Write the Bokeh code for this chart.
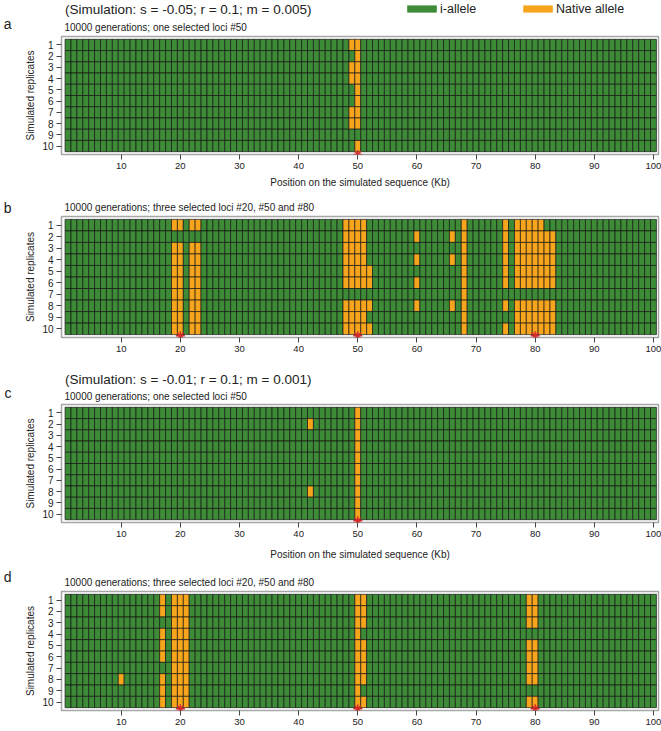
from bokeh.plotting import figure
from bokeh.models import (ColumnDataSource, Range1d, FixedTicker,
                          Legend, LegendItem)
from bokeh.core.properties import value
from bokeh.layouts import column
from bokeh.embed import file_html
from bokeh.resources import INLINE

FONT = "Liberation Sans"
GREEN = "#3d8b37"
ORANGE = "#f7a51c"
STAR = "#d42a2a"
TEXT = "#222222"
LEFT, FRAME_W, RIGHT = 59, 597, 5

# ---------------- data ----------------
n_positions = 100
n_replicates = 10
x_ticks = [10, 20, 30, 40, 50, 60, 70, 80, 90, 100]
y_ticks = [1, 2, 3, 4, 5, 6, 7, 8, 9, 10]

header_1 = "(Simulation: s = -0.05; r = 0.1; m = 0.005)"
header_2 = "(Simulation: s = -0.01; r = 0.1; m = 0.001)"
sub_one = "10000 generations; one selected loci #50"
sub_three = "10000 generations; three selected loci #20, #50 and #80"
legend_labels = ["i-allele", "Native allele"]
x_title = "Position on the simulated sequence (Kb)"
y_title = "Simulated replicates"

# native-allele cells: position -> replicates carrying the native allele
native_a = {
    49: [1, 3, 4, 7, 8],
    50: [1, 2, 3, 4, 5, 6, 7, 8, 10],
}
native_b = {
    19: [1, 3, 4, 5, 6, 7, 8, 9, 10],
    20: [1, 3, 4, 5, 6, 7, 8, 9, 10],
    22: [1, 3, 4, 5, 6, 7, 8, 9, 10],
    23: [1, 3, 4, 5, 6, 7, 8, 9, 10],
    48: [1, 2, 3, 4, 5, 6, 8, 9, 10],
    49: [1, 2, 3, 4, 5, 6, 8, 9, 10],
    50: [1, 2, 3, 4, 5, 6, 8, 9, 10],
    51: [1, 2, 3, 4, 5, 6, 8, 9, 10],
    52: [5, 6, 8, 10],
    60: [2, 4, 6, 8],
    66: [2, 4, 8],
    68: [1, 2, 3, 4, 5, 6, 7, 8, 9, 10],
    75: [1, 2, 3, 4, 5, 6, 8, 10],
    77: [1, 2, 3, 4, 5, 6, 8, 9, 10],
    78: [1, 2, 3, 4, 5, 6, 8, 9, 10],
    79: [1, 2, 3, 4, 5, 6, 8, 9, 10],
    80: [1, 2, 3, 4, 5, 6, 8, 9, 10],
    81: [1, 2, 3, 4, 5, 6, 8, 9, 10],
    82: [2, 3, 4, 5, 6, 8, 9, 10],
    83: [2, 3, 4, 5, 6, 8, 9, 10],
}
native_c = {
    42: [2, 8],
    50: [1, 2, 3, 4, 5, 6, 7, 8, 9, 10],
}
native_d = {
    10: [8],
    17: [1, 2, 4, 5, 6, 8, 9, 10],
    19: [1, 2, 3, 4, 5, 6, 7, 8, 9, 10],
    20: [1, 2, 3, 4, 5, 6, 7, 8, 9, 10],
    21: [1, 2, 3, 4, 5, 6, 7, 8, 9, 10],
    50: [1, 2, 3, 4, 5, 6, 7, 8, 9, 10],
    51: [1, 2, 3, 5, 6, 7, 8, 10],
    79: [1, 2, 3, 5, 6, 7, 8, 10],
    80: [1, 2, 3, 5, 6, 7, 8, 10],
}
selected_a = [50]
selected_b = [20, 50, 80]
selected_c = [50]
selected_d = [20, 50, 80]


def cell_source(native):
    xs, ys, cs = [], [], []
    for pos in range(1, n_positions + 1):
        rows = native.get(pos, [])
        for rep in range(1, n_replicates + 1):
            xs.append(pos)
            ys.append(rep)
            cs.append(ORANGE if rep in rows else GREEN)
    return ColumnDataSource(dict(x=xs, y=ys, color=cs))


def header_fig(height, letter, letter_y, subtitle, header=None, header_y=None,
               legend=False):
    # strip above each panel; x/y ranges are in canvas pixels
    p = figure(frame_width=FRAME_W, frame_height=height,
               min_border_left=LEFT, min_border_right=RIGHT,
               min_border_top=0, min_border_bottom=0,
               x_range=Range1d(LEFT, LEFT + FRAME_W),
               y_range=Range1d(height, 0), x_axis_location=None,
               y_axis_location="left", output_backend="svg",
               toolbar_location=None, tools="")
    p.outline_line_color = None
    p.xgrid.visible = False
    p.ygrid.visible = False
    p.background_fill_color = "white"
    p.border_fill_color = "white"

    ya = p.yaxis[0]
    ya.ticker = FixedTicker(ticks=[letter_y])
    ya.major_label_overrides = {letter_y: letter}
    ya.axis_line_color = None
    ya.major_tick_line_color = None
    ya.minor_tick_line_color = None
    ya.major_tick_out = 0
    ya.major_tick_in = 0
    ya.major_label_standoff = 50
    ya.major_label_text_font = FONT
    ya.major_label_text_font_size = "14px"
    ya.major_label_text_color = TEXT

    p.text(x=[62], y=[letter_y], text=[subtitle], text_font=value(FONT),
           text_font_size="10px", text_baseline="middle", text_align="left",
           text_color=TEXT)
    if header:
        p.text(x=[62.5], y=[header_y], text=[header], text_font=value(FONT),
               text_font_size="13.5px", text_baseline="middle",
               text_align="left", text_color=TEXT)
    if legend:
        # legend swatches (their single point lies outside the strip)
        g = p.rect(x=[-500], y=[-500], width=1, height=1, fill_color=GREEN,
                   line_color=None)
        o = p.rect(x=[-500], y=[-500], width=1, height=1, fill_color=ORANGE,
                   line_color=None)
        leg = Legend(items=[LegendItem(label=legend_labels[0], renderers=[g]),
                            LegendItem(label=legend_labels[1], renderers=[o])],
                     orientation="horizontal",
                     location=(342, height - header_y - 7),
                     glyph_width=37, glyph_height=9, label_standoff=-2,
                     label_width=77, label_height=14, spacing=2,
                     padding=0, margin=0, border_line_color=None,
                     background_fill_alpha=0,
                     label_text_font=FONT, label_text_font_size="12.5px",
                     label_text_color=TEXT, label_text_baseline="middle")
        p.add_layout(leg, "center")
    return p


def panel_fig(native, selected, frame_height, border_top, border_bottom,
              xlabel_standoff=None, star_y=10.6):
    p = figure(frame_width=FRAME_W, frame_height=frame_height,
               min_border_left=LEFT, min_border_right=RIGHT,
               min_border_top=border_top, min_border_bottom=border_bottom,
               x_range=Range1d(-0.1, 100.85), y_range=Range1d(10.75, 0.25),
               output_backend="svg", toolbar_location=None, tools="")
    p.background_fill_color = "white"
    p.border_fill_color = "white"
    p.outline_line_color = "#a6a6a6"
    p.outline_line_width = 1.5
    p.xgrid.visible = False
    p.ygrid.visible = False

    p.rect(x="x", y="y", width=1, height=1, source=cell_source(native),
           fill_color="color", line_color="#141414", line_alpha=0.85,
           line_width=0.8)

    p.scatter(x=selected, y=[star_y] * len(selected), marker="asterisk",
              size=9, line_color=STAR, line_width=1.4)

    xa = p.xaxis[0]
    xa.ticker = FixedTicker(ticks=x_ticks)
    xa.axis_line_color = None
    xa.major_tick_out = 5
    xa.major_tick_in = 0
    xa.minor_tick_line_color = None
    xa.major_tick_line_color = "#444444"
    xa.major_label_standoff = 3
    xa.major_label_text_font = FONT
    xa.major_label_text_font_size = "9.5px"
    xa.major_label_text_color = TEXT
    if xlabel_standoff is not None:
        xa.axis_label = x_title
        xa.axis_label_text_font = FONT
        xa.axis_label_text_font_size = "10px"
        xa.axis_label_text_font_style = "normal"
        xa.axis_label_text_color = TEXT
        xa.axis_label_standoff = xlabel_standoff

    ya = p.yaxis[0]
    ya.ticker = FixedTicker(ticks=y_ticks)
    ya.axis_line_color = None
    ya.major_tick_out = 5
    ya.major_tick_in = 0
    ya.minor_tick_line_color = None
    ya.major_tick_line_color = "#444444"
    ya.major_label_standoff = 3
    ya.major_label_text_font = FONT
    ya.major_label_text_font_size = "10px"
    ya.major_label_text_color = TEXT
    ya.axis_label = y_title
    ya.axis_label_text_font = FONT
    ya.axis_label_text_font_size = "10px"
    ya.axis_label_text_font_style = "normal"
    ya.axis_label_text_color = TEXT
    ya.axis_label_standoff = 3
    return p


ha = header_fig(33, "a", 27, sub_one, header=header_1, header_y=8.5,
                legend=True)
pa = panel_fig(native_a, selected_a, 118, 3, 41, xlabel_standoff=5,
               star_y=10.75)
hb = header_fig(20, "b", 12, sub_three)
pb = panel_fig(native_b, selected_b, 121, 1, 28)
hc = header_fig(37, "c", 31, sub_one, header=header_2, header_y=14)
pc = panel_fig(native_c, selected_c, 118, 2, 45, xlabel_standoff=9)
hd = header_fig(20, "d", 15, sub_three)
pd = panel_fig(native_d, selected_d, 119, 4, 21)

layout = column(ha, pa, hb, pb, hc, pc, hd, pd, spacing=0)
open("out.html", "w").write(file_html(layout, INLINE))
